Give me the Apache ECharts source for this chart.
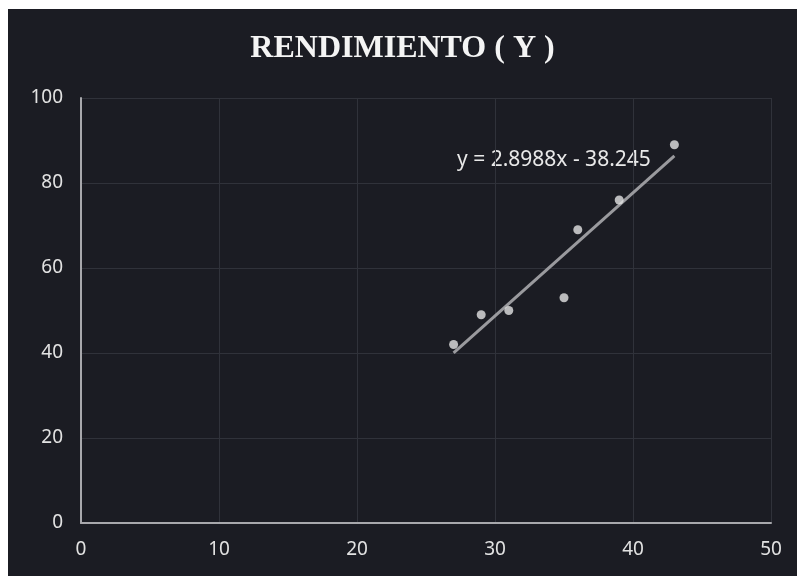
<!DOCTYPE html>
<html>
<head>
<meta charset="utf-8">
<script src="https://cdn.jsdelivr.net/npm/echarts@6/dist/echarts.min.js"></script>
<style>
html,body{margin:0;padding:0;background:#fff;width:797px;height:576px;overflow:hidden;}
#chart{position:absolute;left:8px;top:9px;width:789px;height:567px;}
</style>
</head>
<body>
<div id="chart"></div>
<script>
var titleText = 'RENDIMIENTO ( Y )';
var xValues = [27, 29, 31, 35, 36, 39, 43];
var yValues = [42, 49, 50, 53, 69, 76, 89];
var trendSlope = 2.8988;
var trendIntercept = -38.245;
var trendLabel = 'y = 2.8988x - 38.245';
var xTicks = [0, 10, 20, 30, 40, 50];
var yTicks = [0, 20, 40, 60, 80, 100];

var points = xValues.map(function (x, i) { return [x, yValues[i]]; });
var xMin = Math.min.apply(null, xValues), xMax = Math.max.apply(null, xValues);
var trend = [[xMin, trendSlope * xMin + trendIntercept], [xMax, trendSlope * xMax + trendIntercept]];

var chart = echarts.init(document.getElementById('chart'));
var labelFont = '"Noto Sans", "Open Sans", sans-serif';
chart.setOption({
  backgroundColor: '#1b1c23',
  animation: false,
  title: {
    text: titleText,
    left: 'center',
    top: 19,
    textStyle: { color: '#f4f4f4', fontFamily: '"Liberation Serif", "DejaVu Serif", serif', fontWeight: 'bold', fontSize: 32 }
  },
  grid: { left: 73, right: 26, top: 89, bottom: 53 },
  xAxis: {
    type: 'value', min: xTicks[0], max: xTicks[xTicks.length - 1], interval: 10,
    axisLine: { show: true, lineStyle: { color: '#a8a8ac', width: 2 } },
    axisTick: { show: false },
    axisLabel: { color: '#e2e2e2', fontSize: 19, fontFamily: labelFont, margin: 17 },
    splitLine: { show: true, lineStyle: { color: '#30323a', width: 1 } }
  },
  yAxis: {
    type: 'value', min: yTicks[0], max: yTicks[yTicks.length - 1], interval: 20,
    axisLine: { show: true, lineStyle: { color: '#a8a8ac', width: 2 } },
    axisTick: { show: false },
    axisLabel: { color: '#e2e2e2', fontSize: 19, fontFamily: labelFont, margin: 18 },
    splitLine: { show: true, lineStyle: { color: '#30323a', width: 1 } }
  },
  graphic: [{
    type: 'text',
    left: 449,
    top: 141,
    style: { text: trendLabel, fill: '#e8e8e8', font: '21px ' + labelFont }
  }],
  series: [
    {
      type: 'line', data: trend, symbol: 'none', silent: true,
      lineStyle: { color: '#9a9a9e', width: 3 }, z: 2
    },
    {
      type: 'scatter', data: points, symbolSize: 9,
      itemStyle: { color: '#e4e4e4' }, z: 3
    }
  ]
});
</script>
</body>
</html>
